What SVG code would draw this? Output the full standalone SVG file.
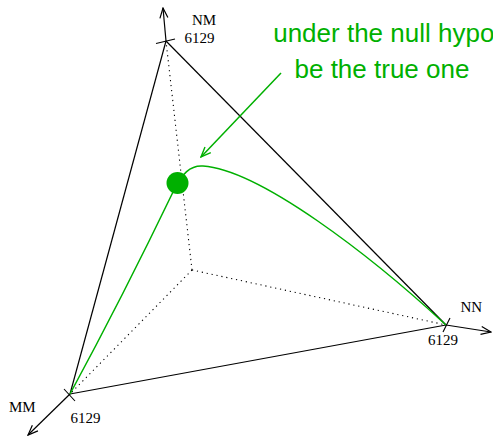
<svg xmlns="http://www.w3.org/2000/svg" width="493" height="437" viewBox="0 0 493 437">
<defs>
<style>
.edge{stroke:#000;stroke-width:1.2;fill:none}
.dot{stroke:#000;stroke-width:1.1;fill:none;stroke-dasharray:1.2 3.8}
.tick{stroke:#000;stroke-width:1.1;fill:none}
.axis{stroke:#000;stroke-width:1.2;fill:none;marker-end:url(#ah)}
.lbl{font-family:"Liberation Serif","Times New Roman",serif;font-size:15px;fill:#000}
.g{stroke:#00b000;stroke-width:1.5;fill:none}
.gt{font-family:"Liberation Sans",Arial,sans-serif;font-size:26px;fill:#00b000}
</style>
<marker id="ah" viewBox="0 0 12 10" refX="11" refY="5" markerWidth="12" markerHeight="10" markerUnits="userSpaceOnUse" orient="auto">
<path d="M1,1 L11,5 L1,9" fill="none" stroke="#000" stroke-width="1.2"/>
</marker>
<marker id="gah" viewBox="0 0 12 10" refX="11" refY="5" markerWidth="12" markerHeight="10" markerUnits="userSpaceOnUse" orient="auto">
<path d="M1,1 L11,5 L1,9" fill="none" stroke="#00b000" stroke-width="1.4"/>
</marker>
</defs>
<g id="connectors">
<line class="dot" x1="192" y1="270" x2="166" y2="41"/>
<line class="dot" x1="192" y1="270" x2="446" y2="325"/>
<line class="dot" x1="192" y1="270" x2="70" y2="394"/>
<line class="edge" x1="166" y1="41" x2="446" y2="325"/>
<line class="edge" x1="166" y1="41" x2="70" y2="394"/>
<line class="edge" x1="70" y1="394" x2="446" y2="325"/>
<line class="axis" x1="166" y1="41" x2="163" y2="8"/>
<line class="axis" x1="446" y1="325" x2="491" y2="332"/>
<line class="axis" x1="70" y1="394" x2="28" y2="435"/>
<path class="g" d="M70,394 Q123,296 174,190 C182,174 190,165 203,166 C260,170 370,255 446,325"/>
<line class="g" x1="281" y1="73" x2="201" y2="157" marker-end="url(#gah)"/>
</g>
<g id="NM">
<line class="tick" x1="156" y1="43.5" x2="175" y2="39"/>
<text class="lbl" x="192" y="25">NM</text>
<text class="lbl" x="184.5" y="42.5">6129</text>
</g>
<g id="NN">
<line class="tick" x1="450" y1="318" x2="443" y2="332"/>
<text class="lbl" x="460.5" y="311.5">NN</text>
<text class="lbl" x="428" y="345">6129</text>
</g>
<g id="MM">
<line class="tick" x1="64" y1="389" x2="75" y2="401"/>
<text class="lbl" x="9" y="411.5">MM</text>
<text class="lbl" x="70.5" y="422.5">6129</text>
</g>
<g id="point">
<circle cx="177.5" cy="183" r="11" fill="#00b000"/>
</g>
<g id="note">
<text class="gt" x="273.2" y="42">under the null hypo</text>
<text class="gt" x="294.5" y="77.5">be the true one</text>
</g>
</svg>
